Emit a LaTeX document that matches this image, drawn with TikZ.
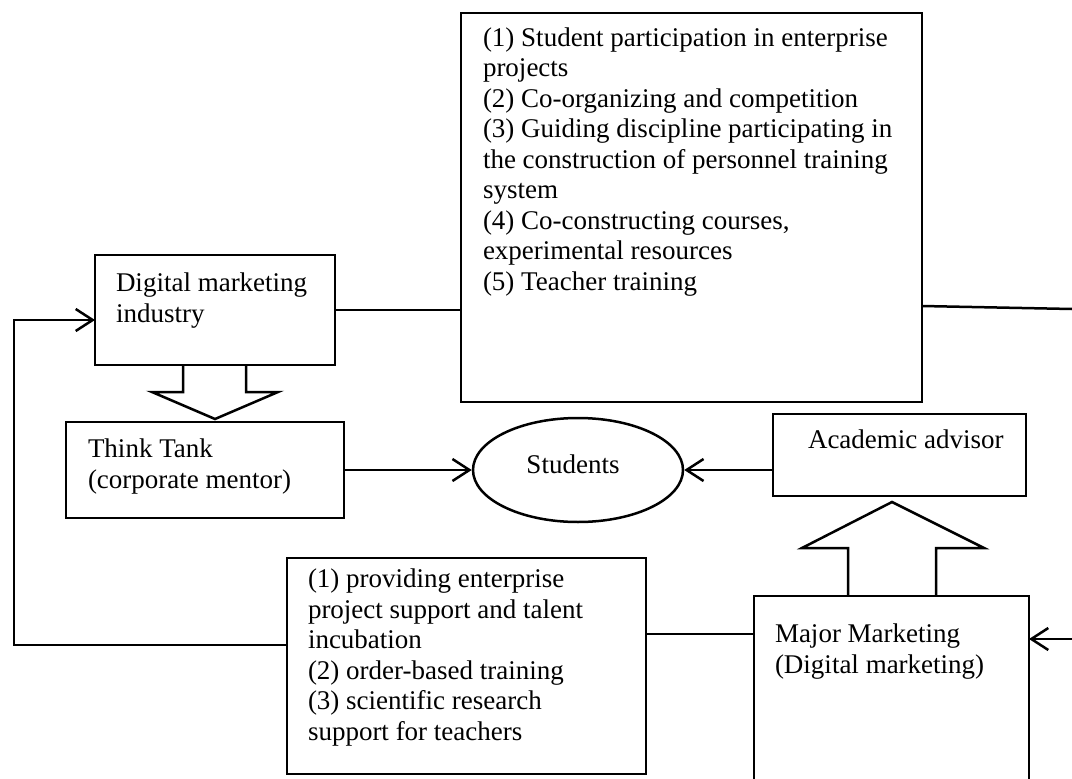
\documentclass[tikz,border=0pt]{standalone}
\usepackage{fontspec}
\setmainfont{Liberation Serif}
\usetikzlibrary{shapes.geometric,arrows.meta}
\tikzset{
  box/.style={draw, line width=2.5pt, inner sep=0pt, outer sep=0pt, anchor=north west},
  txt/.style={font=\fontsize{27}{30.5}\selectfont, inner sep=0pt, outer sep=0pt, align=left, anchor=base west},
  conn/.style={line width=2.5pt},
  arr/.style={line width=2.5pt, -{Straight Barb[length=17pt,width=22pt,line width=2.5pt]}},
  blockarrow/.style={line width=2.5pt, line join=miter}
}
\begin{document}
\begin{tikzpicture}[x=1pt,y=-1pt]
\useasboundingbox[fill=white] (0,0) rectangle (1072,779);
% boxes (text nodes anchored at the baseline of their last line)
\node[box, minimum width=461, minimum height=389] (big) at (461,13) {};
\node[txt] (bigt) at (483,290) {(1) Student participation in enterprise\\projects\\(2) Co-organizing and competition\\(3) Guiding discipline participating in\\the construction of personnel training\\system\\(4) Co-constructing courses,\\experimental resources\\(5) Teacher training};
\node[box, minimum width=240, minimum height=110] (dmi) at (95,255) {};
\node[txt] (dmit) at (116,322) {Digital marketing\\industry};
\node[box, minimum width=278, minimum height=96] (tt) at (66,422) {};
\node[txt] (ttt) at (88,488) {Think Tank\\(corporate mentor)};
\node[draw, ellipse, line width=2.5pt, minimum width=210, minimum height=104, inner sep=0pt] (stu) at (578,470) {};
\node[txt, anchor=base] (stut) at (573,473) {Students};
\node[box, minimum width=253, minimum height=82] (aa) at (773,414) {};
\node[txt] (aat) at (808,448) {Academic advisor};
\node[box, minimum width=359, minimum height=216] (lb) at (287,558) {};
\node[txt] (lbt) at (308,740) {(1) providing enterprise\\project support and talent\\incubation\\(2) order-based training\\(3) scientific research\\support for teachers};
\node[box, minimum width=275, minimum height=220] (mm) at (754,596) {};
\node[txt] (mmt) at (775,673) {Major Marketing\\(Digital marketing)};
% block arrows
\draw[blockarrow] (183,365) -- (183,392) -- (152,392) -- (215,419) -- (278,392) -- (246,392) -- (246,365);
\draw[blockarrow] (848,596) -- (848,548) -- (802,548) -- (892,502) -- (984,548) -- (936,548) -- (936,596);
% connectors
\draw[conn] (dmi.east) -- (dmi.east -| big.west);
\coordinate (re1) at (1072,309);
\draw[conn] (big.east |- 0,306) -- (re1);
\draw[arr] (tt.east) -- (stu.west);
\draw[arr] (aa.west |- stu.east) -- (stu.east);
\draw[conn] (lb.east |- 0,634) -- (mm.west |- 0,634);
\coordinate (re2) at (1072,639);
\draw[arr] (re2) -- (mm.east |- re2);
\coordinate (lc1) at (14,645);
\coordinate (lc2) at (14,320);
\draw[arr] (lb.west |- lc1) -- (lc1) -- (lc2) -- (dmi.west |- lc2);
\end{tikzpicture}
\end{document}
